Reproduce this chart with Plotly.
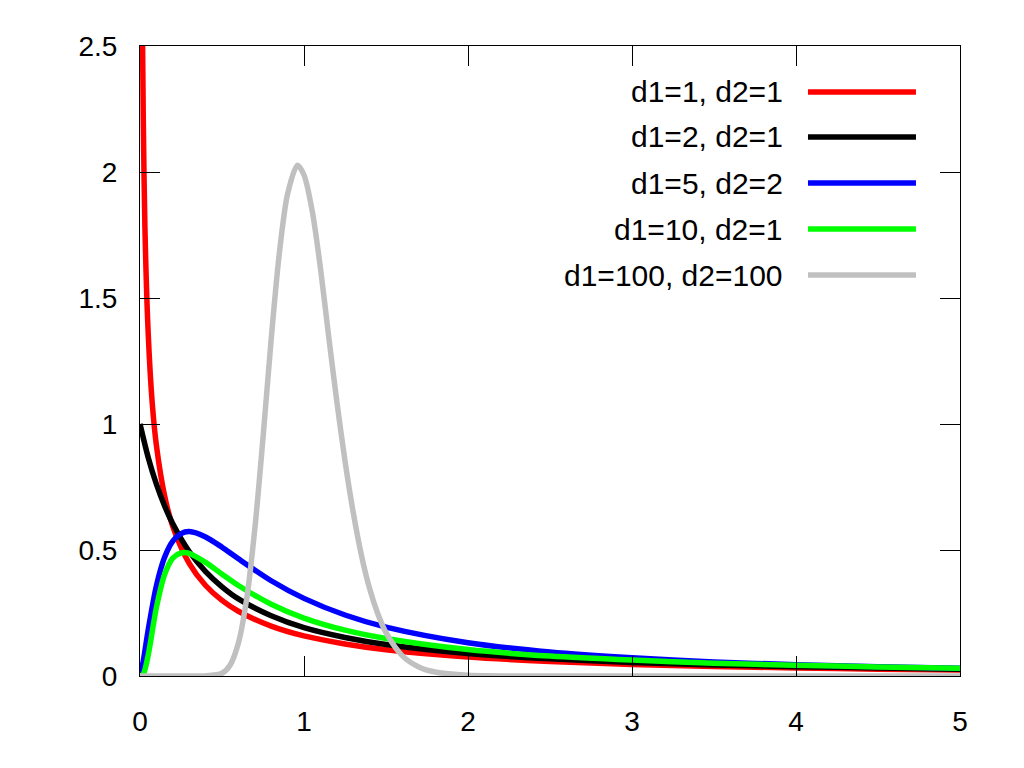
import plotly.graph_objects as go

# values
x_red = [0.015, 0.02, 0.03, 0.05, 0.075, 0.1, 0.15, 0.2, 0.3, 0.4, 0.5, 0.6, 0.8, 1.0,
         1.25, 1.5, 2.0, 2.5, 3.0, 3.5, 4.0, 4.5, 5.0]
y_red = [2.56, 2.21, 1.78, 1.36, 1.08, 0.915, 0.715, 0.593, 0.447, 0.359, 0.300, 0.257,
         0.198, 0.159, 0.127, 0.104, 0.075, 0.058, 0.046, 0.038, 0.032, 0.027, 0.024]

x_black = [0.0, 0.05, 0.1, 0.15, 0.2, 0.3, 0.4, 0.5, 0.6, 0.8, 1.0, 1.25, 1.5, 2.0,
           2.5, 3.0, 3.5, 4.0, 4.5, 5.0]
y_black = [1.0, 0.867, 0.761, 0.675, 0.604, 0.494, 0.414, 0.354, 0.306, 0.239, 0.192,
           0.153, 0.125, 0.089, 0.068, 0.054, 0.044, 0.037, 0.032, 0.027]

x_blue = [0.0, 0.02, 0.05, 0.1, 0.15, 0.2, 0.25, 0.3, 0.4, 0.5, 0.6, 0.8, 1.0, 1.25,
          1.5, 2.0, 2.5, 3.0, 3.5, 4.0, 4.5, 5.0]
y_blue = [0.0, 0.059, 0.183, 0.358, 0.471, 0.535, 0.565, 0.573, 0.552, 0.511, 0.465,
          0.378, 0.308, 0.242, 0.194, 0.132, 0.095, 0.072, 0.056, 0.045, 0.037, 0.031]

x_green = [0.0, 0.02, 0.05, 0.1, 0.15, 0.2, 0.25, 0.3, 0.4, 0.5, 0.6, 0.8, 1.0, 1.25,
           1.5, 2.0, 2.5, 3.0, 3.5, 4.0, 4.5, 5.0]
y_green = [0.0, 0.007, 0.083, 0.272, 0.403, 0.468, 0.488, 0.487, 0.451, 0.404, 0.359,
           0.285, 0.230, 0.182, 0.149, 0.105, 0.079, 0.063, 0.051, 0.043, 0.036, 0.031]

x_gray = [0.0, 0.3, 0.4, 0.5, 0.55, 0.6, 0.65, 0.7, 0.75, 0.8, 0.85, 0.9, 0.96, 1.0,
          1.05, 1.1, 1.15, 1.2, 1.25, 1.3, 1.35, 1.4, 1.45, 1.5, 1.6, 1.7, 1.8, 2.0,
          2.5, 3.0, 4.0, 5.0]
y_gray = [0.0, 0.0, 0.0002, 0.011, 0.044, 0.131, 0.304, 0.583, 0.944, 1.337, 1.68,
          1.913, 2.027, 1.988, 1.846, 1.62, 1.35, 1.09, 0.854, 0.65, 0.48, 0.347, 0.247,
          0.172, 0.080, 0.036, 0.016, 0.003, 0.0, 0.0, 0.0, 0.0]

labels = ["d1=1, d2=1", "d1=2, d2=1", "d1=5, d2=2", "d1=10, d2=1", "d1=100, d2=100"]
colors = ["#ff0000", "#000000", "#0000ff", "#00ff00", "#c0c0c0"]
series = [(x_red, y_red), (x_black, y_black), (x_blue, y_blue),
          (x_green, y_green), (x_gray, y_gray)]

fig = go.Figure()
for (xs, ys), name, col in zip(series, labels, colors):
    fig.add_trace(go.Scatter(x=xs, y=ys, mode="lines", name=name,
                             line=dict(color=col, width=5.5, shape="spline", smoothing=0.8),
                             showlegend=False))

# gnuplot-like key: text right-aligned, sample line to its right
key_y = [0.927, 0.8556, 0.7825, 0.7095, 0.6365]
for name, col, ky in zip(labels, colors, key_y):
    fig.add_annotation(x=0.787, y=ky, xref="paper", yref="paper", text=name,
                       showarrow=False, xanchor="right", yanchor="middle",
                       font=dict(size=30, color="black"))
    fig.add_shape(type="line", xref="paper", yref="paper", x0=0.8146, x1=0.9463,
                  y0=ky, y1=ky, line=dict(color=col, width=5.5))

axis_common = dict(showline=True, linecolor="black", linewidth=1, mirror="ticks",
                   ticks="inside", ticklen=20, tickcolor="black", tickwidth=1,
                   showgrid=False, zeroline=False,
                   tickfont=dict(size=28, color="black"))

fig.update_xaxes(range=[0, 5], tickvals=[0, 1, 2, 3, 4, 5], ticklabelstandoff=20,
                 **axis_common)
fig.update_yaxes(range=[0, 2.5], tickvals=[0, 0.5, 1, 1.5, 2, 2.5],
                 ticklabelstandoff=16, **axis_common)

# the page adds an 8px body margin, so margins are trimmed to keep the frame in place
fig.update_layout(
    width=1024, height=768,
    margin=dict(l=132, r=72, t=38, b=100),
    plot_bgcolor="white", paper_bgcolor="white",
    font=dict(family="Liberation Sans, Arial, sans-serif", size=28, color="black"),
)

fig.write_html("out.html")
